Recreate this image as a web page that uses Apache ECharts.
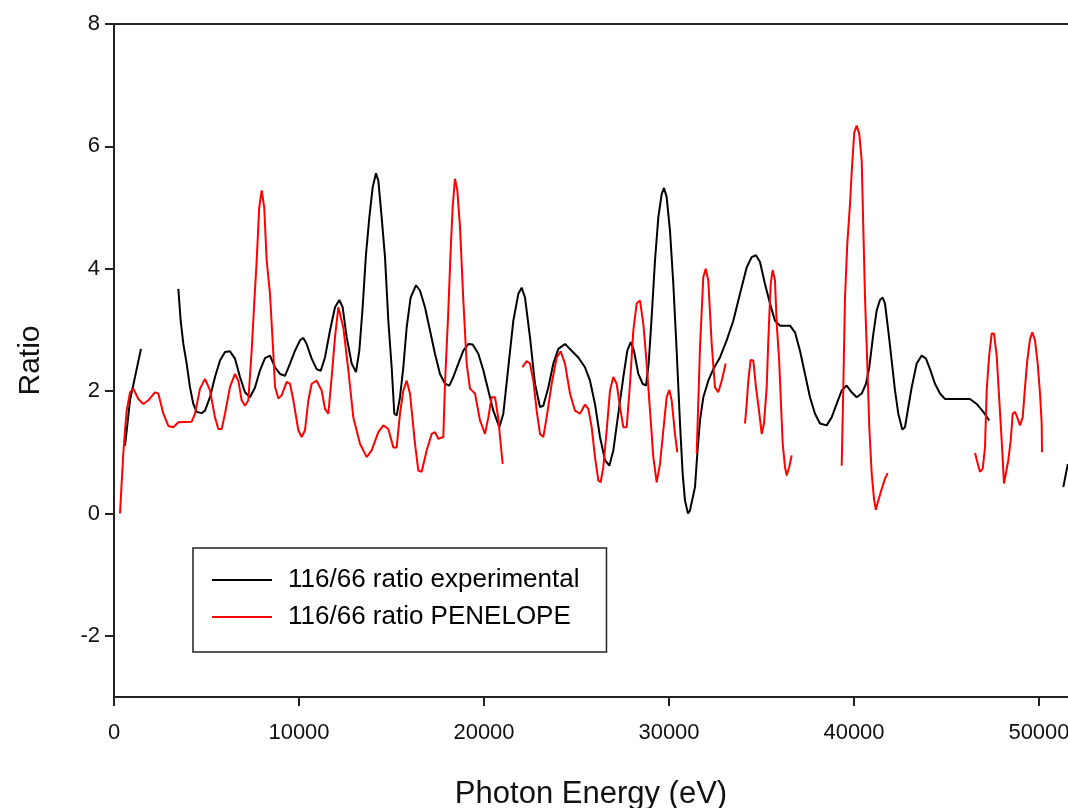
<!DOCTYPE html>
<html>
<head>
<meta charset="utf-8">
<script src="https://cdn.jsdelivr.net/npm/echarts@6/dist/echarts.min.js"></script>
<style>
html,body{margin:0;padding:0;background:#fff;}
#chart{width:1068px;height:808px;}
</style>
</head>
<body>
<div id="chart"></div>
<script>
// ---- data (x: photon energy eV, y: ratio) ----
const xTicks = [0, 10000, 20000, 30000, 40000, 50000];
const yTicks = [-2, 0, 2, 4, 6, 8];
const seriesNames = ['116/66 ratio experimental', '116/66 ratio PENELOPE'];

const exp1 = [[595,1.11],[865,1.85],[1135,2.23],[1459,2.69]];
const exp2 = [[3477,3.67],[3604,3.15],[3748,2.77],[3928,2.45],[4108,2.06],[4288,1.79],[4468,1.66],[4739,1.64],[4919,1.68],[5189,1.90],[5459,2.23],[5730,2.50],[6000,2.64],[6270,2.65],[6541,2.53],[6811,2.23],[7081,1.98],[7351,1.90],[7622,2.06],[7892,2.34],[8162,2.54],[8432,2.58],[8703,2.39],[8973,2.28],[9243,2.25],[9514,2.45],[9784,2.66],[10054,2.83],[10234,2.87],[10414,2.77],[10685,2.53],[10955,2.36],[11171,2.33],[11405,2.55],[11676,2.99],[11946,3.37],[12180,3.49],[12360,3.37],[12577,2.88],[12847,2.45],[13081,2.31],[13261,2.66],[13441,3.37],[13622,4.24],[13802,4.84],[13982,5.33],[14162,5.56],[14288,5.44],[14468,4.84],[14649,4.19],[14829,3.15],[15009,2.39],[15153,1.63],[15279,1.60],[15459,1.90],[15640,2.39],[15820,3.04],[16036,3.53],[16324,3.73],[16541,3.64],[16811,3.37],[17081,2.99],[17351,2.61],[17622,2.28],[17892,2.12],[18126,2.09],[18342,2.23],[18613,2.45],[18883,2.66],[19153,2.77],[19387,2.76],[19694,2.61],[19964,2.34],[20234,2.01],[20505,1.68],[20829,1.41],[21045,1.63],[21315,2.39],[21586,3.15],[21856,3.59],[22036,3.69],[22216,3.53],[22486,2.88],[22757,2.12],[23027,1.74],[23207,1.76],[23477,2.06],[23748,2.45],[24018,2.69],[24378,2.77],[24739,2.66],[25099,2.55],[25459,2.39],[25730,2.17],[26000,1.79],[26270,1.25],[26541,0.87],[26775,0.78],[26991,1.03],[27261,1.63],[27532,2.23],[27748,2.66],[27928,2.80],[28108,2.66],[28342,2.28],[28576,2.12],[28757,2.09],[28901,2.45],[29063,3.21],[29243,4.13],[29423,4.84],[29604,5.22],[29730,5.32],[29874,5.17],[30054,4.62],[30234,3.75],[30414,2.66],[30595,1.47],[30739,0.65],[30865,0.21],[31027,0.0],[31135,0.05],[31405,0.43],[31531,0.98],[31676,1.52],[31856,1.90],[32126,2.17],[32396,2.36],[32757,2.55],[33117,2.83],[33477,3.15],[33838,3.59],[34198,4.02],[34468,4.19],[34703,4.22],[34919,4.11],[35189,3.75],[35459,3.43],[35730,3.15],[36000,3.07],[36541,3.07],[36811,2.96],[37081,2.66],[37351,2.28],[37622,1.90],[37892,1.63],[38162,1.47],[38523,1.44],[38793,1.57],[39063,1.79],[39335,2.01],[39604,2.09],[39874,1.98],[40146,1.90],[40416,1.96],[40649,2.12],[40827,2.39],[41043,2.93],[41227,3.32],[41405,3.49],[41551,3.53],[41676,3.43],[41854,2.99],[42036,2.50],[42216,2.01],[42396,1.63],[42613,1.37],[42757,1.41],[42937,1.74],[43119,2.06],[43389,2.45],[43659,2.58],[43892,2.53],[44108,2.36],[44378,2.12],[44649,1.96],[44919,1.87],[45551,1.87],[46270,1.87],[46632,1.79],[46990,1.66],[47314,1.52]];
const exp3 = [[51314,0.43],[51560,0.81]];

const pen1 = [[324,0.0],[416,0.51],[503,0.98],[595,1.36],[686,1.68],[865,1.98],[1045,2.04],[1315,1.87],[1586,1.79],[1856,1.85],[2216,1.98],[2396,1.96],[2667,1.63],[2937,1.43],[3207,1.41],[3477,1.49],[4198,1.50],[4378,1.63],[4649,2.04],[4919,2.20],[5189,2.01],[5459,1.57],[5640,1.38],[5820,1.38],[6000,1.63],[6270,2.07],[6541,2.28],[6721,2.17],[6901,1.85],[7081,1.76],[7261,1.85],[7441,2.66],[7568,3.37],[7712,4.13],[7850,5.0],[7984,5.28],[8120,5.0],[8253,4.13],[8432,3.59],[8613,2.61],[8703,2.07],[8883,1.88],[9063,1.93],[9333,2.15],[9514,2.12],[9694,1.85],[9964,1.36],[10144,1.25],[10324,1.36],[10505,1.85],[10685,2.12],[10955,2.17],[11225,2.01],[11405,1.71],[11586,1.63],[11766,2.23],[11946,2.88],[12126,3.37],[12216,3.40],[12396,3.04],[12667,2.34],[12937,1.57],[13297,1.14],[13658,0.92],[13928,1.03],[14288,1.33],[14559,1.44],[14829,1.38],[15099,1.08],[15279,1.08],[15459,1.63],[15640,2.01],[15820,2.17],[16000,1.96],[16270,1.14],[16450,0.70],[16631,0.68],[16901,1.03],[17171,1.30],[17351,1.33],[17532,1.22],[17802,1.25],[17892,2.12],[18072,3.32],[18198,4.30],[18306,5.01],[18432,5.47],[18558,5.28],[18703,4.68],[18883,3.48],[19063,2.45],[19243,2.04],[19514,1.96],[19784,1.52],[20054,1.30],[20234,1.57],[20414,1.90],[20595,1.90],[20775,1.55],[20865,1.25],[21009,0.81]];
const pen2 = [[22072,2.39],[22306,2.49],[22486,2.45],[22667,2.17],[22847,1.68],[23027,1.30],[23207,1.25],[23387,1.57],[23658,2.12],[23928,2.55],[24144,2.65],[24378,2.45],[24649,1.96],[24919,1.68],[25189,1.63],[25459,1.78],[25640,1.71],[25820,1.41],[26000,0.92],[26180,0.54],[26306,0.51],[26450,0.76],[26631,1.36],[26811,2.01],[26991,2.23],[27171,2.12],[27351,1.74],[27532,1.41],[27712,1.41],[27892,2.12],[28072,2.99],[28252,3.43],[28432,3.48],[28613,3.10],[28793,2.45],[28973,1.68],[29153,0.92],[29333,0.51],[29514,0.81],[29694,1.36],[29874,1.90],[30018,2.02],[30144,1.85],[30324,1.30],[30450,1.00]];
const pen3 = [[31497,0.98],[31676,2.72],[31854,3.86],[31984,4.00],[32124,3.81],[32308,2.77],[32486,2.06],[32665,1.98],[32849,2.17],[33065,2.45]];
const pen4 = [[34108,1.47],[34200,1.79],[34286,2.17],[34416,2.51],[34557,2.50],[34703,2.06],[34865,1.68],[35011,1.30],[35135,1.47],[35281,2.06],[35368,2.83],[35497,3.75],[35605,3.98],[35730,3.81],[35822,3.10],[35946,2.55],[36054,1.79],[36146,1.14],[36270,0.76],[36362,0.62],[36503,0.76],[36632,0.95]];
const pen5 = [[39335,0.78],[39422,2.06],[39514,3.53],[39638,4.41],[39784,5.06],[39892,5.66],[40016,6.23],[40146,6.34],[40286,6.20],[40416,5.77],[40503,4.68],[40595,3.53],[40719,2.45],[40827,1.41],[40957,0.65],[41081,0.24],[41180,0.06],[41314,0.21],[41497,0.40],[41676,0.57],[41822,0.66]];
const pen6 = [[46541,0.99],[46665,0.84],[46811,0.68],[46957,0.73],[47081,1.08],[47173,2.01],[47297,2.55],[47443,2.94],[47568,2.94],[47714,2.58],[47854,1.85],[47984,1.19],[48108,0.49],[48216,0.51],[48341,0.87],[48470,1.19],[48578,1.63],[48703,1.66],[48827,1.57],[48973,1.44],[49119,1.57],[49243,2.06],[49368,2.50],[49514,2.85],[49638,2.96],[49784,2.83],[49930,2.45],[50054,1.96],[50146,1.47],[50162,1.00]];

const expSegments = [exp1, exp2, exp3];
const penSegments = [pen1, pen2, pen3, pen4, pen5, pen6];

const FONT = '"Liberation Sans", Arial, sans-serif';
const chart = echarts.init(document.getElementById('chart'), null, {renderer: 'canvas'});

function mkSeries(data, name, color) {
  return {
    type: 'line', name: name, data: data, showSymbol: false, symbol: 'none',
    lineStyle: {color: color, width: 2}, itemStyle: {color: color},
    animation: false, silent: true, z: color === '#ff0000' ? 3 : 2
  };
}
const series = [];
penSegments.forEach(s => series.push(mkSeries(s, seriesNames[1], '#ff0000')));
expSegments.forEach(s => series.push(mkSeries(s, seriesNames[0], '#000000')));

chart.setOption({
  animation: false,
  backgroundColor: '#ffffff',
  grid: {left: 114, top: 24, right: 0, bottom: 111, containLabel: false, outerBoundsMode: 'none'},
  legend: {
    data: seriesNames, orient: 'vertical', left: 193, top: 548,
    icon: 'rect', itemWidth: 60, itemHeight: 2, itemGap: 11,
    padding: [19, 27, 22, 19],
    borderColor: '#222', borderWidth: 1.5,
    textStyle: {fontFamily: FONT, fontSize: 26, color: '#000', padding: [0, 0, 0, 11]}
  },
  xAxis: [{
    type: 'value', min: 0, max: 51568, interval: 10000, position: 'bottom',
    name: 'Photon Energy (eV)', nameLocation: 'middle', nameGap: 82,
    nameTextStyle: {fontFamily: FONT, fontSize: 31, color: '#111'},
    axisLine: {show: true, onZero: false, lineStyle: {color: '#222', width: 2}},
    axisTick: {show: true, inside: false, length: 9, lineStyle: {color: '#222', width: 2}, customValues: xTicks},
    axisLabel: {fontFamily: FONT, fontSize: 22, color: '#111', margin: 25, customValues: xTicks,
                formatter: v => String(v)},
    splitLine: {show: false}
  }, {
    type: 'value', min: 0, max: 51568, position: 'top',
    axisLine: {show: true, onZero: false, lineStyle: {color: '#222', width: 2}},
    axisTick: {show: false}, axisLabel: {show: false}, splitLine: {show: false}
  }],
  yAxis: {
    type: 'value', min: -3, max: 8, position: 'left',
    name: 'Ratio', nameLocation: 'middle', nameGap: 68, nameRotate: 90,
    nameTextStyle: {fontFamily: FONT, fontSize: 30, color: '#111'},
    axisLine: {show: true, onZero: false, lineStyle: {color: '#222', width: 2}},
    axisTick: {show: true, inside: false, length: 9, lineStyle: {color: '#222', width: 2}, customValues: yTicks},
    axisLabel: {fontFamily: FONT, fontSize: 22, color: '#111', margin: 14, customValues: yTicks,
                formatter: v => String(v)},
    splitLine: {show: false}
  },
  series: series
});
</script>
</body>
</html>
